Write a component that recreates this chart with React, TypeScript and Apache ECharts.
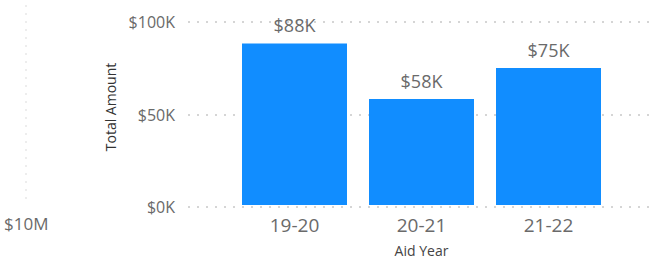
import React, { useEffect, useRef } from "react";
import * as echarts from "echarts";

const categories = ["19-20", "20-21", "21-22"];
const totals = [88300, 57900, 74800];
const yTicks = [0, 50000, 100000];
const sideLabel = "$10M";

const FONT = "'Open Sans', 'Noto Sans', sans-serif";
const kFmt = (v: number) => "$" + Math.round(v / 1000) + "K";

export default function App() {
  const ref = useRef<HTMLDivElement>(null);
  useEffect(() => {
    if (!ref.current) return;
    const chart = echarts.init(ref.current, null, { renderer: "svg" });
    chart.setOption({
      animation: false,
      backgroundColor: "#ffffff",
      textStyle: { fontFamily: FONT },
      grid: [
        { left: 188, right: 0, top: 22, bottom: 55 },
        { left: 231, width: 381, top: 22, bottom: 55 },
      ],
      xAxis: [
        { type: "value", gridIndex: 0, show: false, min: 0, max: 1 },
        {
          type: "category",
          gridIndex: 1,
          data: categories,
          boundaryGap: true,
          axisLine: { show: false },
          axisTick: { show: false },
          axisLabel: { color: "#6a6a6a", fontSize: 19, margin: 10, fontFamily: FONT },
          name: "Aid Year",
          nameLocation: "middle",
          nameGap: 38,
          nameTextStyle: { color: "#444444", fontSize: 14, fontFamily: FONT },
        },
      ],
      yAxis: [
        {
          type: "value",
          gridIndex: 0,
          min: yTicks[0],
          max: yTicks[yTicks.length - 1],
          interval: yTicks[1] - yTicks[0],
          axisLine: { show: false },
          axisTick: { show: false },
          axisLabel: {
            color: "#6a6a6a",
            fontSize: 16,
            margin: 13,
            fontFamily: FONT,
            formatter: (v: number) => kFmt(v),
          },
          splitLine: {
            show: true,
            lineStyle: { color: "#c8c8c8", width: 1.5, type: [2, 7] },
          },
        },
        {
          type: "value",
          gridIndex: 1,
          min: yTicks[0],
          max: yTicks[yTicks.length - 1],
          show: false,
          splitLine: { show: false },
        },
      ],
      series: [
        {
          type: "bar",
          xAxisIndex: 1,
          yAxisIndex: 1,
          data: totals,
          barWidth: 105,
          itemStyle: { color: "#118DFF" },
          label: {
            show: true,
            position: "top",
            distance: 9,
            color: "#6a6a6a",
            fontSize: 18,
            fontFamily: FONT,
            formatter: (p: any) => kFmt(p.value),
          },
        },
      ],
      graphic: [
        {
          type: "line",
          shape: { x1: 26, y1: 5, x2: 26, y2: 205 },
          style: { stroke: "#e8e8e8", lineWidth: 1.5, lineDash: [2, 6] },
          silent: true,
        },
        {
          type: "text",
          x: 110,
          y: 107,
          rotation: Math.PI / 2,
          style: {
            text: "Total Amount",
            fill: "#333333",
            font: `14px ${FONT}`,
            align: "center",
            verticalAlign: "middle",
          },
        },
        {
          type: "text",
          x: 4,
          y: 223,
          style: {
            text: sideLabel,
            fill: "#6a6a6a",
            font: `17px ${FONT}`,
            align: "left",
            verticalAlign: "middle",
          },
        },
      ],
    });
    return () => chart.dispose();
  }, []);
  return <div ref={ref} style={{ width: 654, height: 262, position: "absolute", left: 0, top: 0 }} />;
}
